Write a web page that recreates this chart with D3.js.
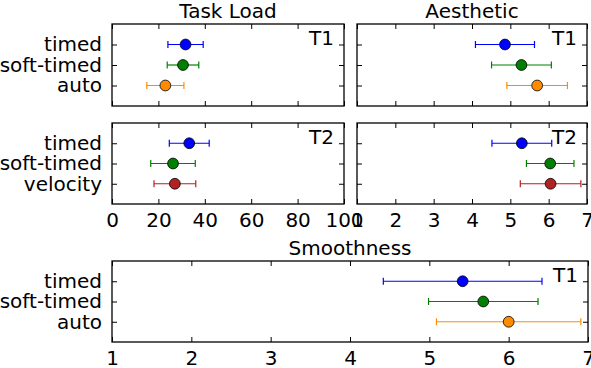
<!DOCTYPE html>
<html>
<head>
<meta charset="utf-8">
<script src="https://cdn.jsdelivr.net/npm/d3@7"></script>
<style>
    body { margin: 0; background: #fff; }
    svg { display: block; font-family: "DejaVu Sans", sans-serif; }
    .axis text { font-size: 20px; fill: #000; font-family: "DejaVu Sans", sans-serif; }
    .axis line { stroke: #000; stroke-width: 1; }
    .axis path { display: none; }
</style>
</head>
<body>
<div id="chart"></div>
<script>
// categories and tick values
const categoriesT1 = ["timed", "soft-timed", "auto"];
const categoriesT2 = ["timed", "soft-timed", "velocity"];
const colorsT1 = ["#0000ff", "#008000", "#ff8c00"];
const colorsT2 = ["#0000ff", "#008000", "#b22222"];
const taskLoadTicks = [0, 20, 40, 60, 80, 100];
const likertTicks = [1, 2, 3, 4, 5, 6, 7];

// means and half-width of the error bars
const taskLoadT1Mean = [31.7, 30.6, 23.0];
const taskLoadT1Err = [7.6, 6.8, 8.0];
const taskLoadT2Mean = [33.3, 26.3, 27.1];
const taskLoadT2Err = [8.6, 9.6, 9.0];
const aestheticT1Mean = [4.86, 5.29, 5.70];
const aestheticT1Err = [0.77, 0.78, 0.79];
const aestheticT2Mean = [5.30, 6.04, 6.05];
const aestheticT2Err = [0.78, 0.62, 0.79];
const smoothnessT1Mean = [5.42, 5.68, 6.00];
const smoothnessT1Err = [1.00, 0.69, 0.91];

const width = 591;
const height = 368;
const tickLen = 5;

const svg = d3.select('#chart')
    .append('svg')
    .attr('width', width)
    .attr('height', height);

svg.append('rect')
    .attr('width', width)
    .attr('height', height)
    .attr('fill', '#fff');

function drawPanel(p) {
    const g = svg.append('g');

    const xScale = d3.scaleLinear()
        .domain([p.ticks[0], p.ticks[p.ticks.length - 1]])
        .range([p.x0, p.x1]);

    // categories sit at 0,1,2 from the top, with one unit of room each side
    const yScale = d3.scaleLinear()
        .domain([-1, p.categories.length])
        .range([p.y0, p.y1]);
    const catIdx = p.categories.map((_, i) => i);

    // ticks point inward on all four sides
    g.append('g')
        .attr('class', 'axis')
        .attr('transform', `translate(0,${p.y1})`)
        .call(d3.axisBottom(xScale).tickValues(p.ticks).tickSizeInner(-tickLen)
            .tickSizeOuter(0).tickPadding(9)
            .tickFormat(p.xLabels ? d3.format('d') : ''));

    g.append('g')
        .attr('class', 'axis')
        .attr('transform', `translate(0,${p.y0})`)
        .call(d3.axisTop(xScale).tickValues(p.ticks).tickSizeInner(-tickLen)
            .tickSizeOuter(0).tickFormat(''));

    g.append('g')
        .attr('class', 'axis')
        .attr('transform', `translate(${p.x0},0)`)
        .call(d3.axisLeft(yScale).tickValues(catIdx).tickSizeInner(-tickLen)
            .tickSizeOuter(0).tickPadding(10)
            .tickFormat(i => p.yLabels ? p.categories[i] : ''));

    g.append('g')
        .attr('class', 'axis')
        .attr('transform', `translate(${p.x1},0)`)
        .call(d3.axisRight(yScale).tickValues(catIdx).tickSizeInner(-tickLen)
            .tickSizeOuter(0).tickFormat(''));

    // frame
    g.append('rect')
        .attr('x', p.x0)
        .attr('y', p.y0)
        .attr('width', p.x1 - p.x0)
        .attr('height', p.y1 - p.y0)
        .attr('fill', 'none')
        .attr('stroke', '#000')
        .attr('stroke-width', 1.3);

    const data = catIdx.map(i => ({
        i,
        mean: p.mean[i],
        err: p.err[i],
        color: p.colors[i]
    }));

    const bars = g.selectAll('.bar')
        .data(data)
        .enter()
        .append('g')
        .attr('class', 'bar');

    bars.append('line')
        .attr('x1', d => xScale(d.mean - d.err))
        .attr('x2', d => xScale(d.mean + d.err))
        .attr('y1', d => yScale(d.i))
        .attr('y2', d => yScale(d.i))
        .attr('stroke', d => d.color)
        .attr('stroke-width', 1.2);

    // caps
    [-1, 1].forEach(s => {
        bars.append('line')
            .attr('x1', d => xScale(d.mean + s * d.err))
            .attr('x2', d => xScale(d.mean + s * d.err))
            .attr('y1', d => yScale(d.i) - 3.5)
            .attr('y2', d => yScale(d.i) + 3.5)
            .attr('stroke', d => d.color)
            .attr('stroke-width', 1.2);
    });

    bars.append('circle')
        .attr('cx', d => xScale(d.mean))
        .attr('cy', d => yScale(d.i))
        .attr('r', 5.4)
        .attr('fill', d => d.color)
        .attr('stroke', '#000')
        .attr('stroke-width', 0.8);

    g.append('text')
        .attr('x', p.x1 - 10)
        .attr('y', p.y0 + 21)
        .attr('text-anchor', 'end')
        .attr('font-size', 20)
        .text(p.tag);

    if (p.title) {
        g.append('text')
            .attr('x', (p.x0 + p.x1) / 2)
            .attr('y', p.y0 - 6.5)
            .attr('text-anchor', 'middle')
            .attr('font-size', 20)
            .text(p.title);
    }
}

drawPanel({
    x0: 112, x1: 344, y0: 24, y1: 106,
    ticks: taskLoadTicks, categories: categoriesT1, colors: colorsT1,
    mean: taskLoadT1Mean, err: taskLoadT1Err,
    title: 'Task Load', tag: 'T1', xLabels: false, yLabels: true
});

drawPanel({
    x0: 357, x1: 587, y0: 24, y1: 106,
    ticks: likertTicks, categories: categoriesT1, colors: colorsT1,
    mean: aestheticT1Mean, err: aestheticT1Err,
    title: 'Aesthetic', tag: 'T1', xLabels: false, yLabels: false
});

drawPanel({
    x0: 112, x1: 344, y0: 123, y1: 204,
    ticks: taskLoadTicks, categories: categoriesT2, colors: colorsT2,
    mean: taskLoadT2Mean, err: taskLoadT2Err,
    title: null, tag: 'T2', xLabels: true, yLabels: true
});

drawPanel({
    x0: 357, x1: 587, y0: 123, y1: 204,
    ticks: likertTicks, categories: categoriesT2, colors: colorsT2,
    mean: aestheticT2Mean, err: aestheticT2Err,
    title: null, tag: 'T2', xLabels: true, yLabels: false
});

drawPanel({
    x0: 112, x1: 588, y0: 261, y1: 342,
    ticks: likertTicks, categories: categoriesT1, colors: colorsT1,
    mean: smoothnessT1Mean, err: smoothnessT1Err,
    title: 'Smoothness', tag: 'T1', xLabels: true, yLabels: true
});
</script>
</body>
</html>
